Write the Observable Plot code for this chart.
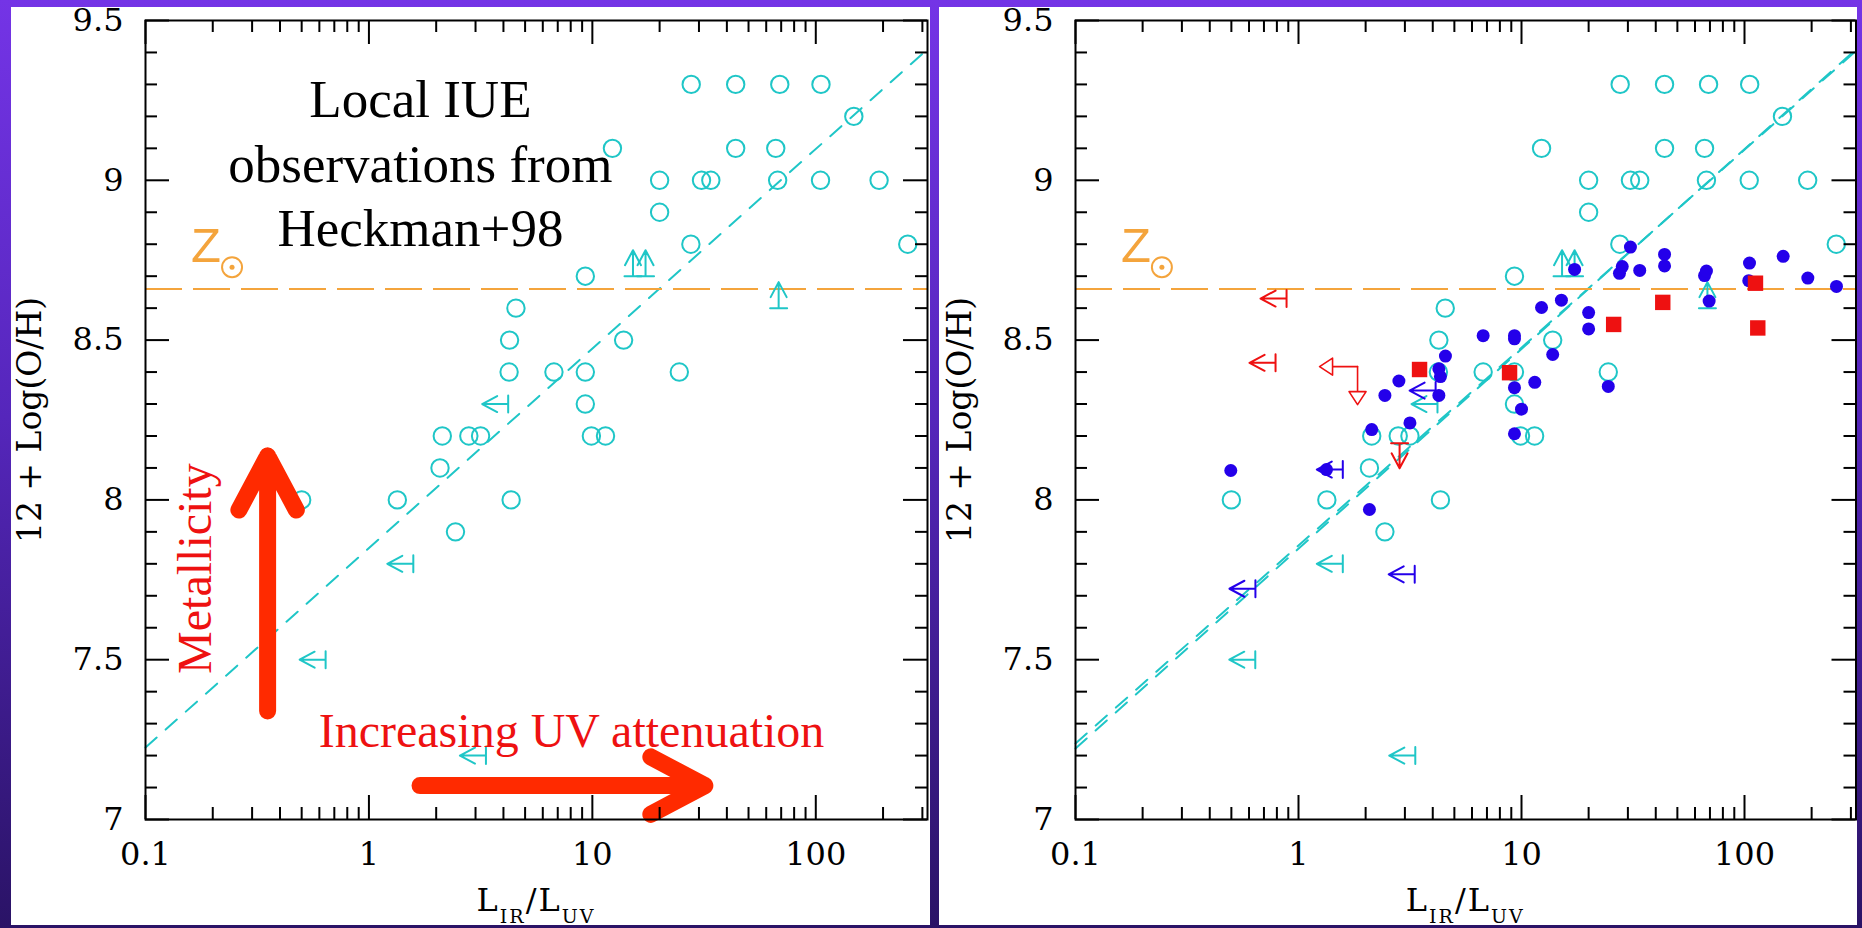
<!DOCTYPE html>
<html><head><meta charset="utf-8">
<script src="https://cdn.jsdelivr.net/npm/d3@7"></script>
<script src="https://cdn.jsdelivr.net/npm/@observablehq/plot@0.6"></script>
<style>
html,body{margin:0;padding:0;}
body{width:1862px;height:928px;overflow:hidden;position:relative;
  background:linear-gradient(180deg,#7434e6 0%,#5526bb 45%,#2a1366 100%);}
.panel{position:absolute;top:7px;height:918px;background:#fff;overflow:visible;}
#left{left:11px;width:919px;}
#right{left:939px;width:918px;}
</style></head><body>
<div id="left" class="panel"></div>
<div id="right" class="panel"></div>
<script>
// ---------------- data ----------------
// Heckman+98 local IUE sample (open cyan circles)
const circX = [0.5, 1.34, 4.33, 2.44, 2.08, 2.13, 2.8, 3.16, 9.9, 11.45, 9.3, 4.24, 6.73, 9.3, 24.5, 4.26, 13.8, 4.55, 9.3, 27.6, 258, 20, 20, 30.8, 33.9, 67.5, 105, 192, 12.3, 43.8, 66.2, 148, 27.7, 43.8, 69, 105.5];
const circY = [8.0, 8.0, 8.0, 7.9, 8.1, 8.2, 8.2, 8.2, 8.2, 8.2, 8.3, 8.4, 8.4, 8.4, 8.4, 8.5, 8.5, 8.6, 8.7, 8.8, 8.8, 8.9, 9.0, 9.0, 9.0, 9.0, 9.0, 9.0, 9.1, 9.1, 9.1, 9.2, 9.3, 9.3, 9.3, 9.3];
// cyan upper limits in L_IR/L_UV (left arrows)
const cyanLimX = [4.2, 1.58, 0.64, 3.34];
const cyanLimY = [8.3, 7.8, 7.5, 7.2];
// cyan lower limits in metallicity (up arrows)
const cyanLowX = [15.2, 17.3, 68.2];
const cyanLowY = [8.70, 8.70, 8.60];
// new sample (filled blue dots)
const blueX = [0.497, 1.335, 2.08, 2.13, 2.44, 2.82, 3.16, 4.26, 4.33, 4.26, 4.56, 6.73, 9.30, 9.30, 9.30, 10.0, 9.30, 11.47, 12.3, 13.8, 15.1, 17.3, 20.0, 20.0, 24.5, 27.5, 28.3, 30.8, 33.9, 43.8, 43.8, 66.2, 67.5, 69.4, 104.5, 105.3, 149.1, 192.3, 258.5];
const blueY = [8.092, 8.095, 7.97, 8.22, 8.327, 8.372, 8.241, 8.41, 8.386, 8.327, 8.45, 8.514, 8.514, 8.504, 8.351, 8.284, 8.207, 8.368, 8.602, 8.455, 8.625, 8.721, 8.586, 8.535, 8.355, 8.709, 8.730, 8.791, 8.718, 8.768, 8.732, 8.702, 8.716, 8.622, 8.686, 8.741, 8.762, 8.694, 8.668];
const blueLimX = [4.12, 1.58, 3.32, 0.641];
const blueLimY = [8.342, 8.095, 7.767, 7.722];
// red squares
const redX = [3.49, 8.84, 25.9, 43.0, 112.0, 114.7];
const redY = [8.408, 8.398, 8.549, 8.618, 8.678, 8.538];
const redLimX = [0.884, 0.789];
const redLimY = [8.63, 8.429];
const redDownX = [2.84];
const redDownY = [8.177];
const redBothX = [1.84];
const redBothY = [8.417];
// fitted relations
const fitX = [0.1, 316.2];
const fitY = [7.225, 9.41];
const fitYb = [7.222, 9.41];
const fitYc = [7.238, 9.405];
const solarOH = [8.66];
// axes
const xMajor = [0.1, 1, 10, 100];
const xMinor = [0.2,0.3,0.4,0.5,0.6,0.7,0.8,0.9,2,3,4,5,6,7,8,9,20,30,40,50,60,70,80,90,200,300];
const yMajor = [7, 7.5, 8, 8.5, 9, 9.5];
const yMinor = [7.1,7.2,7.3,7.4,7.6,7.7,7.8,7.9,8.1,8.2,8.3,8.4,8.6,8.7,8.8,8.9,9.1,9.2,9.3,9.4];
// annotations
const noteText = ["Local IUE\nobservations from\nHeckman+98"];
const noteX = [1.70], noteY = [8.793];
const metalText = ["Metallicity"], metalX = [0.1974], metalY = [7.785];
const uvText = ["Increasing UV attenuation"], uvX = [8.07], uvY = [7.228];
const zText = ["Z"], zX = [0.160], zY = [8.743];
const sunX = [0.244], sunY = [8.728];
const bigArrowX1 = [0.352, 1.551], bigArrowY1 = [7.313, 7.106];
const bigArrowX2 = [0.352, 34.8], bigArrowY2 = [8.164, 7.106];
const yLabel = ["12 + Log(O/H)"];

// ---------------- styles ----------------
const cyan = "#1fc6c7", blue = "#2400ea", red = "#ee1111", orange = "#f4a43c", arrowRed = "#ff2a00";
const serif = "DejaVu Serif";
const rows = (xs, ys) => xs.map((x, i) => ({x, y: ys[i]}));

const chevronLimit = {
  draw(ctx, l) {
    ctx.moveTo(-8.5, 0); ctx.lineTo(8.5, 0);
    ctx.moveTo(0, 0); ctx.lineTo(0, -l);
    ctx.moveTo(-8, -l + 15); ctx.lineTo(0, -l); ctx.lineTo(8, -l + 15);
  }
};
const triangleArrow = {
  draw(ctx, l) {
    ctx.moveTo(0, 0); ctx.lineTo(0, -l + 13);
    ctx.moveTo(0, -l); ctx.lineTo(-8.5, -l + 13); ctx.lineTo(8.5, -l + 13); ctx.closePath();
  }
};

function panel(el, width, marginLeft, marginRight, isRight) {
  const height = 918, marginTop = 13, marginBottom = 106;
  const innerW = width - marginLeft - marginRight;
  const innerH = height - marginTop - marginBottom;
  const marks = [];
  const fits = isRight ? [fitYb, fitYc] : [fitY];
  for (const fy of fits)
    marks.push(Plot.line(rows(fitX, fy), {x: "x", y: "y", stroke: cyan, strokeWidth: 2, strokeDasharray: "15,12"}));
  marks.push(Plot.ruleY(solarOH, {y: d => d, stroke: orange, strokeWidth: 2, strokeDasharray: "37,11"}));
  marks.push(Plot.dot(rows(circX, circY), {x: "x", y: "y", r: 8.7, stroke: cyan, strokeWidth: 2, fill: "none"}));
  marks.push(Plot.vector(rows(cyanLimX, cyanLimY), {x: "x", y: "y", length: 26, rotate: -90, anchor: "start", shape: chevronLimit, stroke: cyan, strokeWidth: 2}));
  marks.push(Plot.vector(rows(cyanLowX, cyanLowY), {x: "x", y: "y", length: 26, rotate: 0, anchor: "start", shape: chevronLimit, stroke: cyan, strokeWidth: 2}));
  if (isRight) {
    marks.push(Plot.dot(rows(blueX, blueY), {x: "x", y: "y", r: 6.5, fill: blue, stroke: "none"}));
    marks.push(Plot.vector(rows(blueLimX, blueLimY), {x: "x", y: "y", length: 26, rotate: -90, anchor: "start", shape: chevronLimit, stroke: blue, strokeWidth: 2}));
    marks.push(Plot.dot(rows(redX, redY), {x: "x", y: "y", r: 8.7, symbol: "square", fill: red, stroke: "none"}));
    marks.push(Plot.vector(rows(redLimX, redLimY), {x: "x", y: "y", length: 26, rotate: -90, anchor: "start", shape: chevronLimit, stroke: red, strokeWidth: 2}));
    marks.push(Plot.vector(rows(redDownX, redDownY), {x: "x", y: "y", length: 25, rotate: 180, anchor: "start", shape: chevronLimit, stroke: red, strokeWidth: 2}));
    marks.push(Plot.vector(rows(redBothX, redBothY), {x: "x", y: "y", length: 38, rotate: -90, anchor: "start", shape: triangleArrow, stroke: red, strokeWidth: 1.6}));
    marks.push(Plot.vector(rows(redBothX, redBothY), {x: "x", y: "y", length: 38, rotate: 180, anchor: "start", shape: triangleArrow, stroke: red, strokeWidth: 1.6}));
  } else {
    marks.push(Plot.text(noteText, {x: () => noteX[0], y: () => noteY[0], text: d => d, fontFamily: "Liberation Serif", fontSize: 53, lineHeight: 1.217, lineAnchor: "bottom", fill: "black"}));
    marks.push(Plot.text(metalText, {x: () => metalX[0], y: () => metalY[0], text: d => d, rotate: -90, fontFamily: "Liberation Serif", fontSize: 48, lineAnchor: "bottom", fill: red}));
    marks.push(Plot.text(uvText, {x: () => uvX[0], y: () => uvY[0], text: d => d, fontFamily: "Liberation Serif", fontSize: 48, lineAnchor: "bottom", fill: red}));
    marks.push(Plot.arrow(bigArrowX1.map((x, i) => ({x1: x, y1: bigArrowY1[i], x2: bigArrowX2[i], y2: bigArrowY2[i]})),
      {x1: "x1", y1: "y1", x2: "x2", y2: "y2", stroke: arrowRed, strokeWidth: 17, headAngle: 56, headLength: 5.4,
       insetStart: 8.5, insetEnd: 8.5, strokeLinecap: "round", strokeLinejoin: "round"}));
  }
  // solar symbol
  marks.push(Plot.text(zText, {x: () => zX[0], y: () => zY[0], text: d => d, textAnchor: "start", lineAnchor: "bottom", fontFamily: "Liberation Sans", fontSize: 49, fill: orange}));
  marks.push(Plot.dot(rows(sunX, sunY), {x: "x", y: "y", r: 10, stroke: orange, strokeWidth: 2, fill: "none"}));
  marks.push(Plot.dot(rows(sunX, sunY), {x: "x", y: "y", r: 2.5, fill: orange, stroke: "none"}));
  // frame and ticks (inward, all four sides)
  marks.push(Plot.frame({stroke: "black", strokeWidth: 2}));
  marks.push(Plot.tickY(yMajor, {y: d => d, insetRight: innerW - 24, strokeWidth: 2}));
  marks.push(Plot.tickY(yMajor, {y: d => d, insetLeft: innerW - 24, strokeWidth: 2}));
  marks.push(Plot.tickY(yMinor, {y: d => d, insetRight: innerW - 12, strokeWidth: 2}));
  marks.push(Plot.tickY(yMinor, {y: d => d, insetLeft: innerW - 12, strokeWidth: 2}));
  marks.push(Plot.tickX(xMajor, {x: d => d, insetTop: innerH - 24, strokeWidth: 2}));
  marks.push(Plot.tickX(xMajor, {x: d => d, insetBottom: innerH - 24, strokeWidth: 2}));
  marks.push(Plot.tickX(xMinor, {x: d => d, insetTop: innerH - 12, strokeWidth: 2}));
  marks.push(Plot.tickX(xMinor, {x: d => d, insetBottom: innerH - 12, strokeWidth: 2}));
  // tick labels
  marks.push(Plot.text(yMajor, {y: d => d, frameAnchor: "left", dx: -22, textAnchor: "end", text: d => String(d), fontFamily: serif, fontSize: 32}));
  marks.push(Plot.text(xMajor, {x: d => d, frameAnchor: "bottom", dy: 23, lineAnchor: "top", textAnchor: "middle", text: d => String(d), fontFamily: serif, fontSize: 32}));
  // y label
  marks.push(Plot.text(yLabel, {frameAnchor: "left", dx: -115.5, rotate: -90, textAnchor: "middle", lineAnchor: "middle", text: d => d, fontFamily: serif, fontSize: 33, letterSpacing: 3}));

  const plot = Plot.plot({
    width, height, marginTop, marginRight, marginBottom, marginLeft,
    x: {type: "log", domain: [0.1, 316.23], axis: null},
    y: {type: "linear", domain: [7, 9.5], axis: null},
    style: {fontFamily: serif, fontSize: "31px", background: "white", color: "black", overflow: "visible"},
    marks
  });
  // x label with subscripts
  const xr = plot.scale("x").range;
  const cx = (xr[0] + xr[1]) / 2;
  const t = d3.select(plot).append("text")
    .attr("x", cx).attr("y", 904).attr("text-anchor", "middle")
    .style("font-family", serif).style("font-size", "32px").style("letter-spacing", "2px").attr("fill", "black");
  t.append("tspan").text("L");
  t.append("tspan").style("font-size", "19px").attr("dy", 12).text("IR");
  t.append("tspan").attr("dy", -12).text("/L");
  t.append("tspan").style("font-size", "19px").attr("dy", 12).text("UV");
  el.appendChild(plot);
}

panel(document.getElementById("left"), 919, 134, 3, false);
panel(document.getElementById("right"), 918, 136, 1.5, true);
</script>
</body></html>
